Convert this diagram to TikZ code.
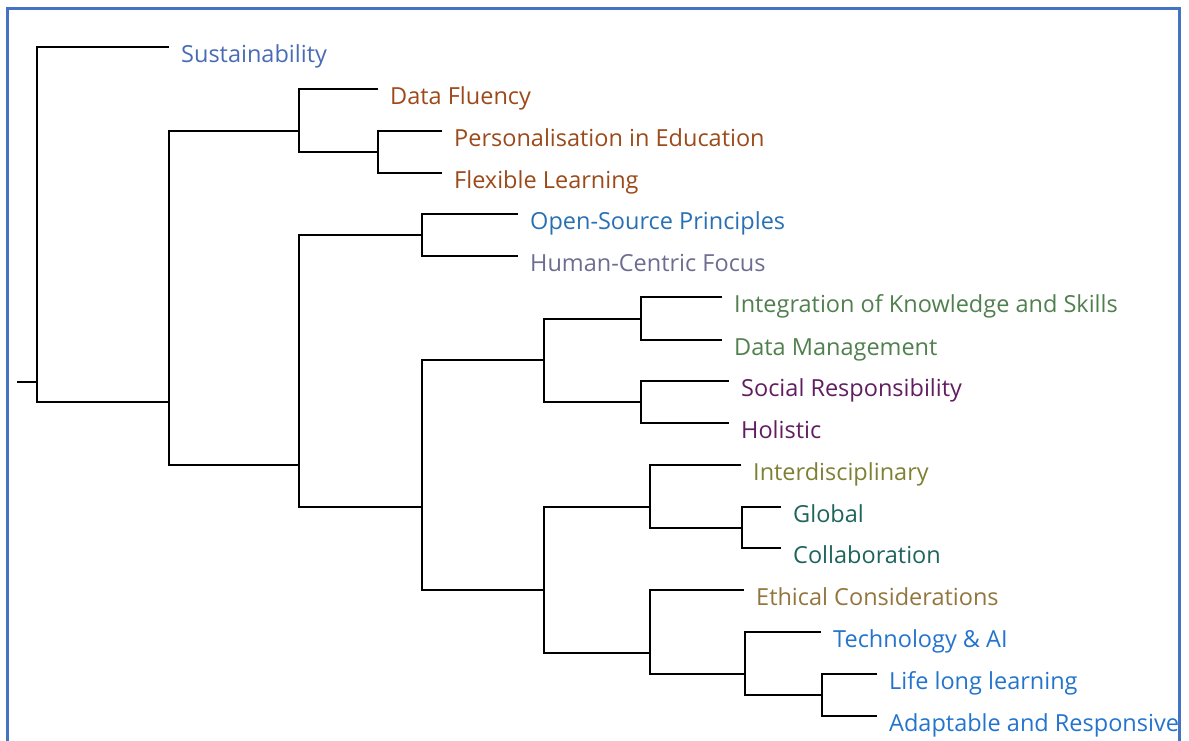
\documentclass[tikz,border=0pt]{standalone}
\usepackage{fontspec}
\setmainfont{Open Sans}
\definecolor{frameblue}{RGB}{68,114,196}
\definecolor{csus}{RGB}{72,108,180}
\definecolor{cbrown}{RGB}{156,74,26}
\definecolor{copen}{RGB}{40,112,180}
\definecolor{chuman}{RGB}{110,108,145}
\definecolor{cgreen}{RGB}{80,128,78}
\definecolor{cplum}{RGB}{96,30,96}
\definecolor{colive}{RGB}{128,128,52}
\definecolor{cteal}{RGB}{30,100,92}
\definecolor{ctan}{RGB}{146,118,62}
\definecolor{ctech}{RGB}{36,116,206}
\begin{document}
\begin{tikzpicture}[x=1pt,y=-1pt,
  branch/.style={line width=2pt, draw=black},
  leaf/.style={anchor=base west, inner sep=0pt, font=\fontsize{23.5}{28}\selectfont},
  frame/.style={line width=3pt, draw=frameblue}]
\useasboundingbox (0,0) rectangle (1189,740);
% open frame round the tree
\draw[frame] (7,745) -- (7,8) -- (1179,8) -- (1179,745);

% leaves: line end and label
\foreach \n/\x/\y/\c/\t in {
  sus/169/47/csus/Sustainability,
  dfl/378/89/cbrown/Data Fluency,
  pers/442/131/cbrown/Personalisation in Education,
  flex/442/173/cbrown/Flexible Learning,
  open/518/214/copen/Open-Source Principles,
  human/518/256/chuman/Human-Centric Focus,
  integ/722/297/cgreen/Integration of Knowledge and Skills,
  dman/722/340/cgreen/Data Management,
  social/729/381/cplum/Social Responsibility,
  holi/729/423/cplum/Holistic,
  interd/741/465/colive/Interdisciplinary,
  global/781/507/cteal/Global,
  collab/781/548/cteal/Collaboration,
  ethic/744/590/ctan/Ethical Considerations,
  tech/821/632/ctech/Technology \& AI,
  life/877/674/ctech/Life long learning,
  adapt/877/716/ctech/Adaptable and Responsive}{
  \coordinate (\n) at (\x,\y);
  \node[leaf, text=\c] (\n-label) at (\x+12,\y+15) {\t};
}

% joins of the dendrogram
\coordinate (stub) at (17,381.5);
\coordinate (root) at (37,381.5);
\coordinate (n1) at (169,402);
\coordinate (n2) at (299,131);
\coordinate (n4) at (378,152);
\coordinate (n3) at (299,465);
\coordinate (n5) at (422,235);
\coordinate (n6) at (422,507);
\coordinate (n7) at (544,360);
\coordinate (n9) at (641,318.5);
\coordinate (n10) at (641,402);
\coordinate (n8) at (544,590);
\coordinate (n11) at (650,507);
\coordinate (n13) at (742,527.5);
\coordinate (n12) at (650,653);
\coordinate (n14) at (745,674);
\coordinate (n15) at (822,695);

\draw[branch] (stub) -- (root);
\foreach \p/\a/\b in {
  root/sus/n1, n1/n2/n3, n2/dfl/n4, n4/pers/flex,
  n3/n5/n6, n5/open/human, n6/n7/n8, n7/n9/n10,
  n9/integ/dman, n10/social/holi, n8/n11/n12,
  n11/interd/n13, n13/global/collab, n12/ethic/n14,
  n14/tech/n15, n15/life/adapt}{
  \draw[branch] (\a) -| (\p) |- (\b);
}
\end{tikzpicture}
\end{document}
